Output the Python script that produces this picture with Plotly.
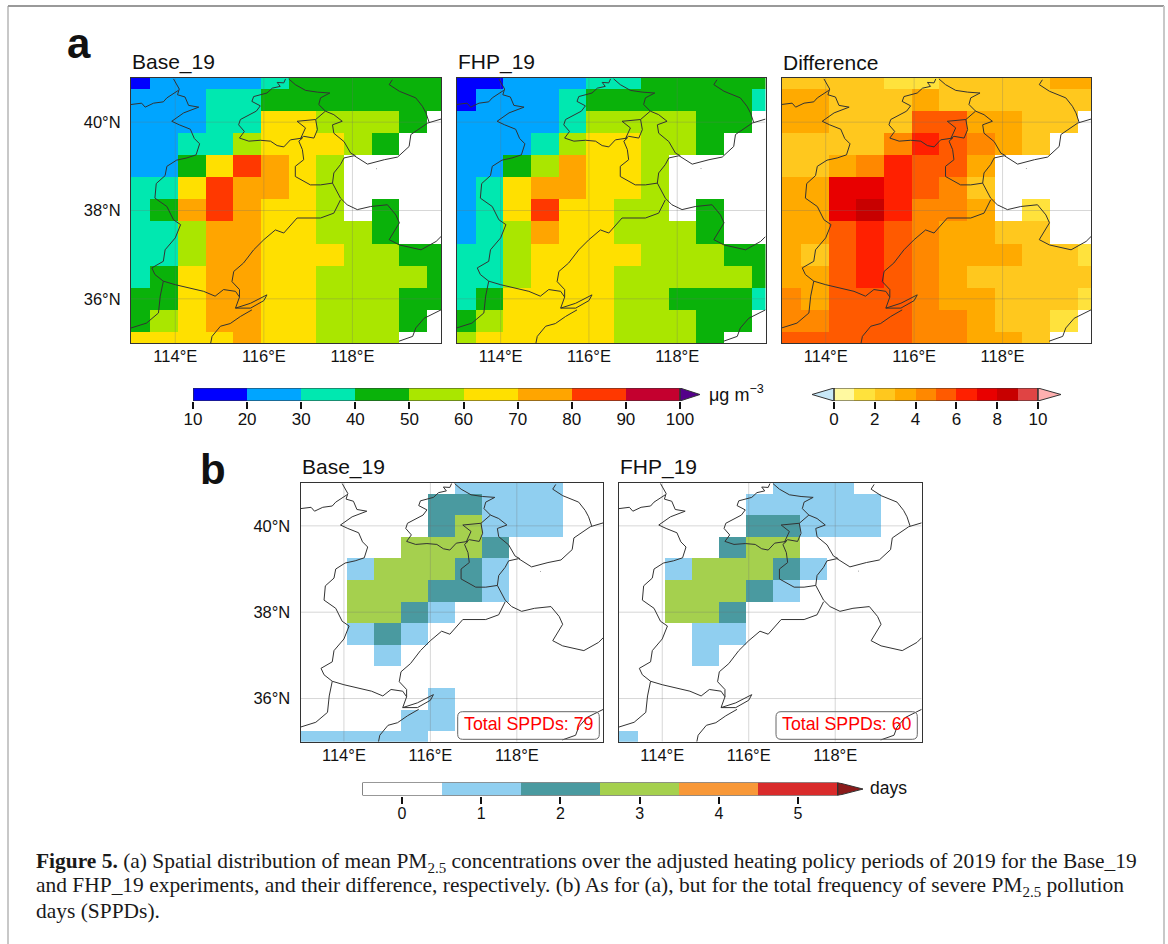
import plotly.graph_objects as go

W, H = 1168, 944
N = None

LON = [113.125, 113.75, 114.375, 115.0, 115.625, 116.25, 116.875, 117.5, 118.125, 118.75, 119.375, 120.0]
LAT = [41.0, 40.5, 40.0, 39.5, 39.0, 38.5, 38.0, 37.5, 37.0, 36.5, 36.0, 35.5, 35.0]

BASE_19 = [
    [15, 25, 25, 25, 25, 35, 45, 45, 45, 45, 45, 45],
    [25, 25, 25, 35, 35, 45, 45, 45, 45, 45, 45, 45],
    [25, 25, 25, 35, 35, 65, 65, 55, 55, 55, 45, N],
    [25, 25, 35, 35, 55, 65, 65, 65, 55, 45, N, N],
    [25, 25, 45, 65, 85, 75, 65, 55, N, N, N, N],
    [35, 35, 65, 85, 75, 75, 65, 55, N, N, N, N],
    [35, 45, 75, 85, 75, 65, 65, 55, N, 45, N, N],
    [35, 35, 55, 75, 75, 65, 65, 55, 55, 45, N, N],
    [35, 35, 55, 75, 75, 65, 65, 65, 55, 55, 45, 45],
    [35, 45, 65, 75, 75, 65, 65, 55, 55, 55, 55, 45],
    [45, 45, 65, 75, 75, 65, 65, 55, 55, 55, 45, 45],
    [45, 55, 65, 75, 75, 65, 65, 55, 55, 55, 45, N],
    [65, 65, 65, 65, 75, 65, 65, 55, 55, 55, N, N],
]
FHP_19 = [
    [15, 15, 25, 25, 25, 35, 35, 45, 45, 45, 45, 45],
    [15, 25, 25, 25, 35, 45, 45, 45, 45, 45, 45, 35],
    [25, 25, 25, 25, 35, 55, 55, 55, 55, 45, 45, N],
    [25, 25, 25, 35, 55, 65, 65, 55, 55, 45, N, N],
    [25, 25, 45, 55, 75, 65, 65, 55, N, N, N, N],
    [25, 35, 65, 75, 75, 65, 65, 55, N, N, N, N],
    [25, 35, 65, 85, 65, 65, 55, 55, N, 45, N, N],
    [25, 35, 55, 75, 65, 65, 55, 55, 55, 45, N, N],
    [35, 35, 55, 65, 65, 65, 65, 55, 55, 55, 45, 45],
    [35, 35, 55, 65, 65, 65, 55, 55, 55, 55, 55, 45],
    [35, 45, 65, 65, 65, 65, 55, 55, 45, 45, 45, 35],
    [45, 55, 65, 65, 65, 65, 55, 55, 55, 45, 45, N],
    [55, 65, 65, 65, 65, 65, 55, 55, 55, 45, N, N],
]
DIFFERENCE = [
    [2.5, 2.5, 2.5, 2.5, 1.5, 1.5, 2.5, 2.5, 2.5, 2.5, 3.5, 3.5],
    [3.5, 3.5, 2.5, 2.5, 2.5, 3.5, 2.5, 2.5, 2.5, 2.5, 2.5, 2.5],
    [3.5, 3.5, 2.5, 2.5, 2.5, 5.5, 5.5, 3.5, 3.5, 2.5, 2.5, N],
    [2.5, 2.5, 2.5, 2.5, 4.5, 6.5, 5.5, 4.5, 3.5, 2.5, N, N],
    [2.5, 2.5, 3.5, 4.5, 6.5, 5.5, 5.5, 3.5, N, N, N, N],
    [3.5, 3.5, 7.5, 7.5, 6.5, 5.5, 4.5, 2.5, N, N, N, N],
    [3.5, 3.5, 7.5, 8.5, 6.5, 4.5, 4.5, 3.5, N, 1.5, N, N],
    [3.5, 3.5, 5.5, 6.5, 5.5, 4.5, 3.5, 3.5, 2.5, 2.5, N, N],
    [3.5, 2.5, 5.5, 6.5, 5.5, 4.5, 3.5, 3.5, 3.5, 2.5, 2.5, 1.5],
    [3.5, 3.5, 5.5, 6.5, 5.5, 4.5, 3.5, 2.5, 2.5, 2.5, 2.5, 2.5],
    [4.5, 3.5, 5.5, 5.5, 5.5, 4.5, 3.5, 3.5, 2.5, 2.5, 2.5, 1.5],
    [4.5, 4.5, 5.5, 5.5, 5.5, 4.5, 4.5, 3.5, 2.5, 2.5, 1.5, N],
    [5.5, 5.5, 5.5, 5.5, 5.5, 4.5, 4.5, 3.5, 3.5, 2.5, N, N],
]
SPPD_BASE = [
    [0, 0, 0, 0, 0, 0, 1, 1, 1, 1, 0, 0],
    [0, 0, 0, 0, 0, 2, 2, 1, 1, 1, 0, 0],
    [0, 0, 0, 0, 0, 2, 3, 1, 1, 1, 0, 0],
    [0, 0, 0, 0, 3, 3, 3, 2, 0, 0, 0, 0],
    [0, 0, 1, 3, 3, 3, 2, 1, 0, 0, 0, 0],
    [0, 0, 3, 3, 3, 2, 2, 1, 0, 0, 0, 0],
    [0, 0, 3, 3, 2, 1, 0, 0, 0, 0, 0, 0],
    [0, 0, 1, 2, 1, 0, 0, 0, 0, 0, 0, 0],
    [0, 0, 0, 1, 0, 0, 0, 0, 0, 0, 0, 0],
    [0, 0, 0, 0, 0, 0, 0, 0, 0, 0, 0, 0],
    [0, 0, 0, 0, 0, 1, 0, 0, 0, 0, 0, 0],
    [0, 0, 0, 0, 1, 1, 0, 0, 0, 0, 0, 0],
    [1, 1, 1, 1, 1, 0, 0, 0, 0, 0, 0, 0],
]
SPPD_FHP = [
    [0, 0, 0, 0, 0, 0, 1, 1, 1, 0, 0, 0],
    [0, 0, 0, 0, 0, 1, 1, 1, 1, 1, 0, 0],
    [0, 0, 0, 0, 0, 2, 2, 1, 1, 1, 0, 0],
    [0, 0, 0, 0, 2, 3, 3, 0, 0, 0, 0, 0],
    [0, 0, 1, 3, 3, 3, 2, 1, 0, 0, 0, 0],
    [0, 0, 3, 3, 3, 2, 1, 0, 0, 0, 0, 0],
    [0, 0, 3, 3, 2, 0, 0, 0, 0, 0, 0, 0],
    [0, 0, 0, 1, 1, 0, 0, 0, 0, 0, 0, 0],
    [0, 0, 0, 1, 0, 0, 0, 0, 0, 0, 0, 0],
    [0, 0, 0, 0, 0, 0, 0, 0, 0, 0, 0, 0],
    [0, 0, 0, 0, 0, 0, 0, 0, 0, 0, 0, 0],
    [0, 0, 0, 0, 0, 0, 0, 0, 0, 0, 0, 0],
    [1, 0, 0, 0, 0, 0, 0, 0, 0, 0, 0, 0],
]

PM_COLORS = ["#0000ff", "#00a5ff", "#00e8b0", "#0ab20a", "#aae600", "#ffe000", "#ffa500", "#ff3800", "#c4002f"]
PM_TIP = "#54008a"
DIFF_COLORS = ["#fff9a0", "#ffe23c", "#ffc81e", "#ffaa00", "#ff8800", "#ff5a00", "#ff2000", "#e80000", "#c80000", "#e04444"]
DIFF_TIPS = ["#c8e8f8", "#ffb0b0"]
DAY_COLORS = ["#ffffff", "#90cff0", "#4a9aa0", "#a5d04e", "#f89838", "#d92b2b"]
DAY_TIP = "#8b1a1a"

PM_TICKS = [10, 20, 30, 40, 50, 60, 70, 80, 90, 100]
DIFF_TICKS = [0, 2, 4, 6, 8, 10]
DAY_TICKS = [0, 1, 2, 3, 4, 5]
LON_TICKS = [114, 116, 118]
LON_LABELS = ["114°E", "116°E", "118°E"]
LAT_TICKS = [36, 38, 40]
LAT_LABELS = ["36°N", "38°N", "40°N"]

# Province borders and coastline, lon/lat, None separates the pieces
BORDER_LON = [
    113.96, 114.09, 114.05, 114.22, 114.30, 114.53, 114.19, 113.92, 114.09, 114.34, 114.43, 114.55, 114.47, 114.26, 114.03, 113.81, 113.77, 113.57, 113.54, 113.81, 113.96, 114.12, 114.0, 113.77, 113.73, 113.47, 113.54, 113.73, 114.0, 114.37, 114.64, 114.90, 115.09, 115.36, 115.45, 115.36, 115.70, 116.07, 116.0, 115.70, 115.36, N,
    113.0, 113.24, 113.32, 113.51, 113.73, 113.81, 114.07, N,
    113.73, 113.69, 113.66, 113.62, 113.35, 113.0, N,
    115.73, 115.47, 115.24, 115.02, 114.83, 114.80, N,
    116.49, 116.45, 116.30, 116.37, 116.19, 116.07, 115.77, 115.73, 115.92, 115.83, 115.47, 115.43, 115.56, 115.45, 115.66, 115.92, 116.15, 116.30, 116.45, 116.60, 116.87, N,
    116.56, 116.71, 116.94, 117.21, 117.49, 117.28, 117.24, 117.39, 117.58, 117.77, 117.55, 117.58, 117.81, 117.96, 118.07, N,
    117.39, 117.17, 117.21, 117.13, 116.90, 116.83, 116.94, 116.75, 117.17, N,
    116.87, 116.79, 116.87, 116.90, 116.71, 116.71, 117.05, 117.28, 117.55, N,
    117.55, 117.58, 117.73, 117.81, 118.04, 118.34, 118.72, 119.02, 119.28, 119.32, 119.70, 120.0, N,
    118.90, 118.83, 119.06, 119.43, 119.58, 119.66, 119.73, N,
    117.55, 117.73, 117.88, 118.11, 118.41, 118.79, 118.98, 119.06, 118.83, 119.06, 119.55, 119.89, 120.0, N,
    117.73, 117.58, 117.28, 116.75, 116.45, 116.26, 116.0, 115.77, 115.54, 115.32, 115.28, 115.45, 115.45, N,
    119.05, 119.36, 119.43, 119.62, 120.0, N,
    118.54, 118.55,
]
BORDER_LAT = [
    40.98, 40.75, 40.62, 40.57, 40.38, 40.34, 40.21, 40.02, 39.94, 39.84, 39.63, 39.51, 39.26, 39.19, 39.14, 39.0, 38.79, 38.61, 38.28, 38.09, 37.79, 37.68, 37.38, 37.11, 36.85, 36.70, 36.55, 36.40, 36.32, 36.24, 36.17, 36.06, 36.21, 36.17, 36.04, 35.79, 35.90, 36.09, 35.96, 35.79, 35.79, N,
    40.40, 40.43, 40.34, 40.43, 40.46, 40.55, 40.72, N,
    36.40, 36.21, 36.06, 35.68, 35.45, 35.34, N,
    35.75, 35.60, 35.44, 35.38, 35.15, 35.0, N,
    40.98, 40.89, 40.90, 40.81, 40.77, 40.66, 40.58, 40.47, 40.37, 40.25, 40.06, 39.94, 39.79, 39.64, 39.57, 39.59, 39.57, 39.47, 39.44, 39.60, 39.64, N,
    40.98, 40.85, 40.72, 40.68, 40.66, 40.55, 40.40, 40.25, 40.17, 40.02, 39.94, 39.75, 39.56, 39.30, 39.24, N,
    40.25, 40.06, 39.83, 39.64, 39.68, 39.63, 39.87, 40.02, 40.06, N,
    39.64, 39.57, 39.38, 39.15, 39.0, 38.77, 38.58, 38.58, 38.62, N,
    38.62, 38.85, 39.04, 39.19, 39.24, 39.05, 39.15, 39.21, 39.45, 39.72, 39.98, 40.07, N,
    40.96, 40.85, 40.70, 40.55, 40.36, 40.21, 40.0, N,
    38.62, 38.28, 38.13, 38.02, 38.09, 38.13, 37.90, 37.72, 37.34, 37.22, 37.11, 37.30, 37.41, N,
    38.24, 37.94, 37.83, 37.83, 37.49, 37.56, 37.34, 37.11, 36.81, 36.62, 36.39, 36.21, 36.04, N,
    35.04, 35.15, 35.34, 35.56, 35.75, N,
    38.95, 38.94,
]


def step_scale(colors):
    n = len(colors)
    scale = []
    for i, c in enumerate(colors):
        scale += [[i / n, c], [(i + 1) / n, c]]
    return scale


def xfrac(px):
    return px / W


def yfrac(px):
    return 1 - px / H


fig = go.Figure()
TICK_FONT = dict(family="Liberation Sans", size=16.5, color="#111111")
layout = {}

PM_SCALE = dict(colorscale=step_scale(PM_COLORS), zmin=10, zmax=100)
DIFF_SCALE = dict(colorscale=step_scale(DIFF_COLORS), zmin=0, zmax=10)
DAY_SCALE = dict(colorscale=step_scale(DAY_COLORS), zmin=-0.5, zmax=5.5)

# name, data, colours, left, right, top, bottom, show latitude labels
PANELS = [
    ("Base_19", BASE_19, PM_SCALE, 131, 441, 78, 343, True),
    ("FHP_19", FHP_19, PM_SCALE, 456.5, 765.5, 78, 343, False),
    ("Difference", DIFFERENCE, DIFF_SCALE, 781.5, 1091, 78, 343, False),
    ("Base_19", SPPD_BASE, DAY_SCALE, 300.7, 603.3, 482.7, 741.7, True),
    ("FHP_19", SPPD_FHP, DAY_SCALE, 619, 921.7, 482.7, 741.7, False),
]

annotations = []
shapes = []


def text(s, x, y, size, family="Liberation Sans", color="#111111", xanchor="left"):
    annotations.append(dict(text=s, x=xfrac(x), y=yfrac(y), xref="paper", yref="paper",
                            xanchor=xanchor, yanchor="middle", showarrow=False,
                            font=dict(family=family, size=size, color=color)))


for i, (name, z, scale, l, r, t, b, lat_labels) in enumerate(PANELS, start=1):
    xa, ya = f"x{i}", f"y{i}"
    fig.add_trace(go.Heatmap(x=LON, y=LAT, z=z, xaxis=xa, yaxis=ya, showscale=False,
                             hoverongaps=False, **scale))
    for v in LON_TICKS:
        fig.add_trace(go.Scatter(x=[v, v], y=[35, 41], xaxis=xa, yaxis=ya, mode="lines",
                                 line=dict(color="rgba(110,110,110,0.28)", width=1),
                                 showlegend=False, hoverinfo="skip"))
    for v in LAT_TICKS:
        fig.add_trace(go.Scatter(x=[113, 120], y=[v, v], xaxis=xa, yaxis=ya, mode="lines",
                                 line=dict(color="rgba(110,110,110,0.28)", width=1),
                                 showlegend=False, hoverinfo="skip"))
    fig.add_trace(go.Scatter(x=BORDER_LON, y=BORDER_LAT, xaxis=xa, yaxis=ya, mode="lines",
                             line=dict(color="#333333", width=1), showlegend=False,
                             hoverinfo="skip"))
    layout[f"xaxis{i}"] = dict(domain=[xfrac(l), xfrac(r)], range=[113, 120], anchor=ya,
                               tickvals=LON_TICKS, ticktext=LON_LABELS, showgrid=False,
                               zeroline=False, ticks="", tickfont=TICK_FONT, ticklabelstandoff=-2,
                               automargin=False,
                               showline=True, mirror=True, linecolor="#333333", linewidth=1.2)
    layout[f"yaxis{i}"] = dict(domain=[yfrac(b), yfrac(t)], range=[35, 41], anchor=xa,
                               tickvals=LAT_TICKS, ticktext=LAT_LABELS, showgrid=False,
                               showticklabels=lat_labels, ticklabelstandoff=6,
                               automargin=False,
                               zeroline=False, ticks="", tickfont=TICK_FONT,
                               showline=True, mirror=True, linecolor="#333333", linewidth=1.2)
    text(name, l - 1, t - 16, 21)

# Colour bars: bin centres, colours, ticks, range, left, right, top, bottom, tips, low end, font size
BARS = [
    ([15, 25, 35, 45, 55, 65, 75, 85, 95], PM_SCALE, PM_TICKS, [10, 103.7], 193, 700, 388, 401, [None, 100, PM_TIP], 10, 17),
    ([0.5, 1.5, 2.5, 3.5, 4.5, 5.5, 6.5, 7.5, 8.5, 9.5], DIFF_SCALE, DIFF_TICKS, [-1.08, 11.13], 812, 1061, 388, 401, [DIFF_TIPS[0], 10, DIFF_TIPS[1]], 0, 17),
    ([0, 1, 2, 3, 4, 5], DAY_SCALE, DAY_TICKS, [-0.5, 5.82], 362.4, 863, 782.5, 795.6, [None, 5.5, DAY_TIP], -0.5, 16),
]

for j, (centres, scale, ticks, rng, l, r, t, b, tips, low, fsize) in enumerate(BARS, start=6):
    xa, ya = f"x{j}", f"y{j}"
    fig.add_trace(go.Heatmap(x=centres, y=[0.5], z=[centres], xaxis=xa, yaxis=ya, showscale=False,
                             hoverinfo="skip", **scale))
    left_tip, high, right_tip = tips
    fig.add_trace(go.Scatter(x=[high, rng[1], high, high], y=[0, 0.5, 1, 0], xaxis=xa, yaxis=ya,
                             mode="lines", fill="toself", fillcolor=right_tip,
                             line=dict(color="#333333", width=1), showlegend=False, hoverinfo="skip"))
    if left_tip:
        fig.add_trace(go.Scatter(x=[low, rng[0], low, low], y=[0, 0.5, 1, 0], xaxis=xa, yaxis=ya,
                                 mode="lines", fill="toself", fillcolor=left_tip,
                                 line=dict(color="#333333", width=1), showlegend=False, hoverinfo="skip"))
    fig.add_trace(go.Scatter(x=[low, high, high, low, low], y=[0, 0, 1, 1, 0], xaxis=xa, yaxis=ya,
                             mode="lines", line=dict(color="#333333", width=1.2),
                             showlegend=False, hoverinfo="skip"))
    layout[f"xaxis{j}"] = dict(domain=[xfrac(l), xfrac(r)], range=rng, anchor=ya, tickvals=ticks,
                               showgrid=False, zeroline=False, ticks="outside", ticklen=7,
                               tickwidth=1.5, tickcolor="#111111", automargin=False,
                               tickfont=dict(family="Liberation Sans", size=fsize, color="#111111"),
                               ticklabelstandoff=-4, showline=False)
    layout[f"yaxis{j}"] = dict(domain=[yfrac(b), yfrac(t)], range=[0, 1], anchor=xa, visible=False,
                               automargin=False)

text("μg m<sup>−3</sup>", 707, 393, 18)
text("days", 868, 788, 17.5)
text("<b>a</b>", 65, 44, 42)
text("<b>b</b>", 198, 469, 42)


def rounded(l, r, t, b, rad=5):
    xs, ys = xfrac, yfrac
    return (f"M {xs(l + rad)} {ys(t)} L {xs(r - rad)} {ys(t)} Q {xs(r)} {ys(t)} {xs(r)} {ys(t + rad)} "
            f"L {xs(r)} {ys(b - rad)} Q {xs(r)} {ys(b)} {xs(r - rad)} {ys(b)} "
            f"L {xs(l + rad)} {ys(b)} Q {xs(l)} {ys(b)} {xs(l)} {ys(b - rad)} "
            f"L {xs(l)} {ys(t + rad)} Q {xs(l)} {ys(t)} {xs(l + rad)} {ys(t)} Z")


for l, r, label in [(457.7, 599.3, "Total SPPDs: 79"), (776, 917.3, "Total SPPDs: 60")]:
    shapes.append(dict(type="path", path=rounded(l, r, 711.7, 739.3), xref="paper", yref="paper",
                       line=dict(color="#666666", width=1)))
    text(label, (l + r) / 2, 724, 17.8, color="#ff0000", xanchor="center")

# Page frame
for x0, y0, x1, y1, c in [(8, 6, 8, 944, "#c8c8c8"), (8, 6, 1164, 6, "#999999"), (1164, 6, 1164, 944, "#c8c8c8")]:
    shapes.append(dict(type="line", x0=xfrac(x0), x1=xfrac(x1), y0=yfrac(y0), y1=yfrac(y1),
                       xref="paper", yref="paper", line=dict(color=c, width=2)))

CAPTION = [
    "<b>Figure 5.</b> (a) Spatial distribution of mean PM<sub>2.5</sub> concentrations over the adjusted heating policy periods of 2019 for the Base_19",
    "and FHP_19 experiments, and their difference, respectively. (b) As for (a), but for the total frequency of severe PM<sub>2.5</sub> pollution",
    "days (SPPDs).",
]
for line, y in zip(CAPTION, [862, 886, 911]):
    text(line, 34, y, 21.45, family="Liberation Serif", color="#1a1a1a")

fig.update_layout(width=W, height=H, margin=dict(l=0, r=0, t=0, b=0), paper_bgcolor="white",
                  plot_bgcolor="white", showlegend=False, annotations=annotations, shapes=shapes,
                  **layout)
fig.write_html("out.html", config=dict(displayModeBar=False),
               post_script="document.body.style.margin='0';document.documentElement.style.overflow='hidden';")
